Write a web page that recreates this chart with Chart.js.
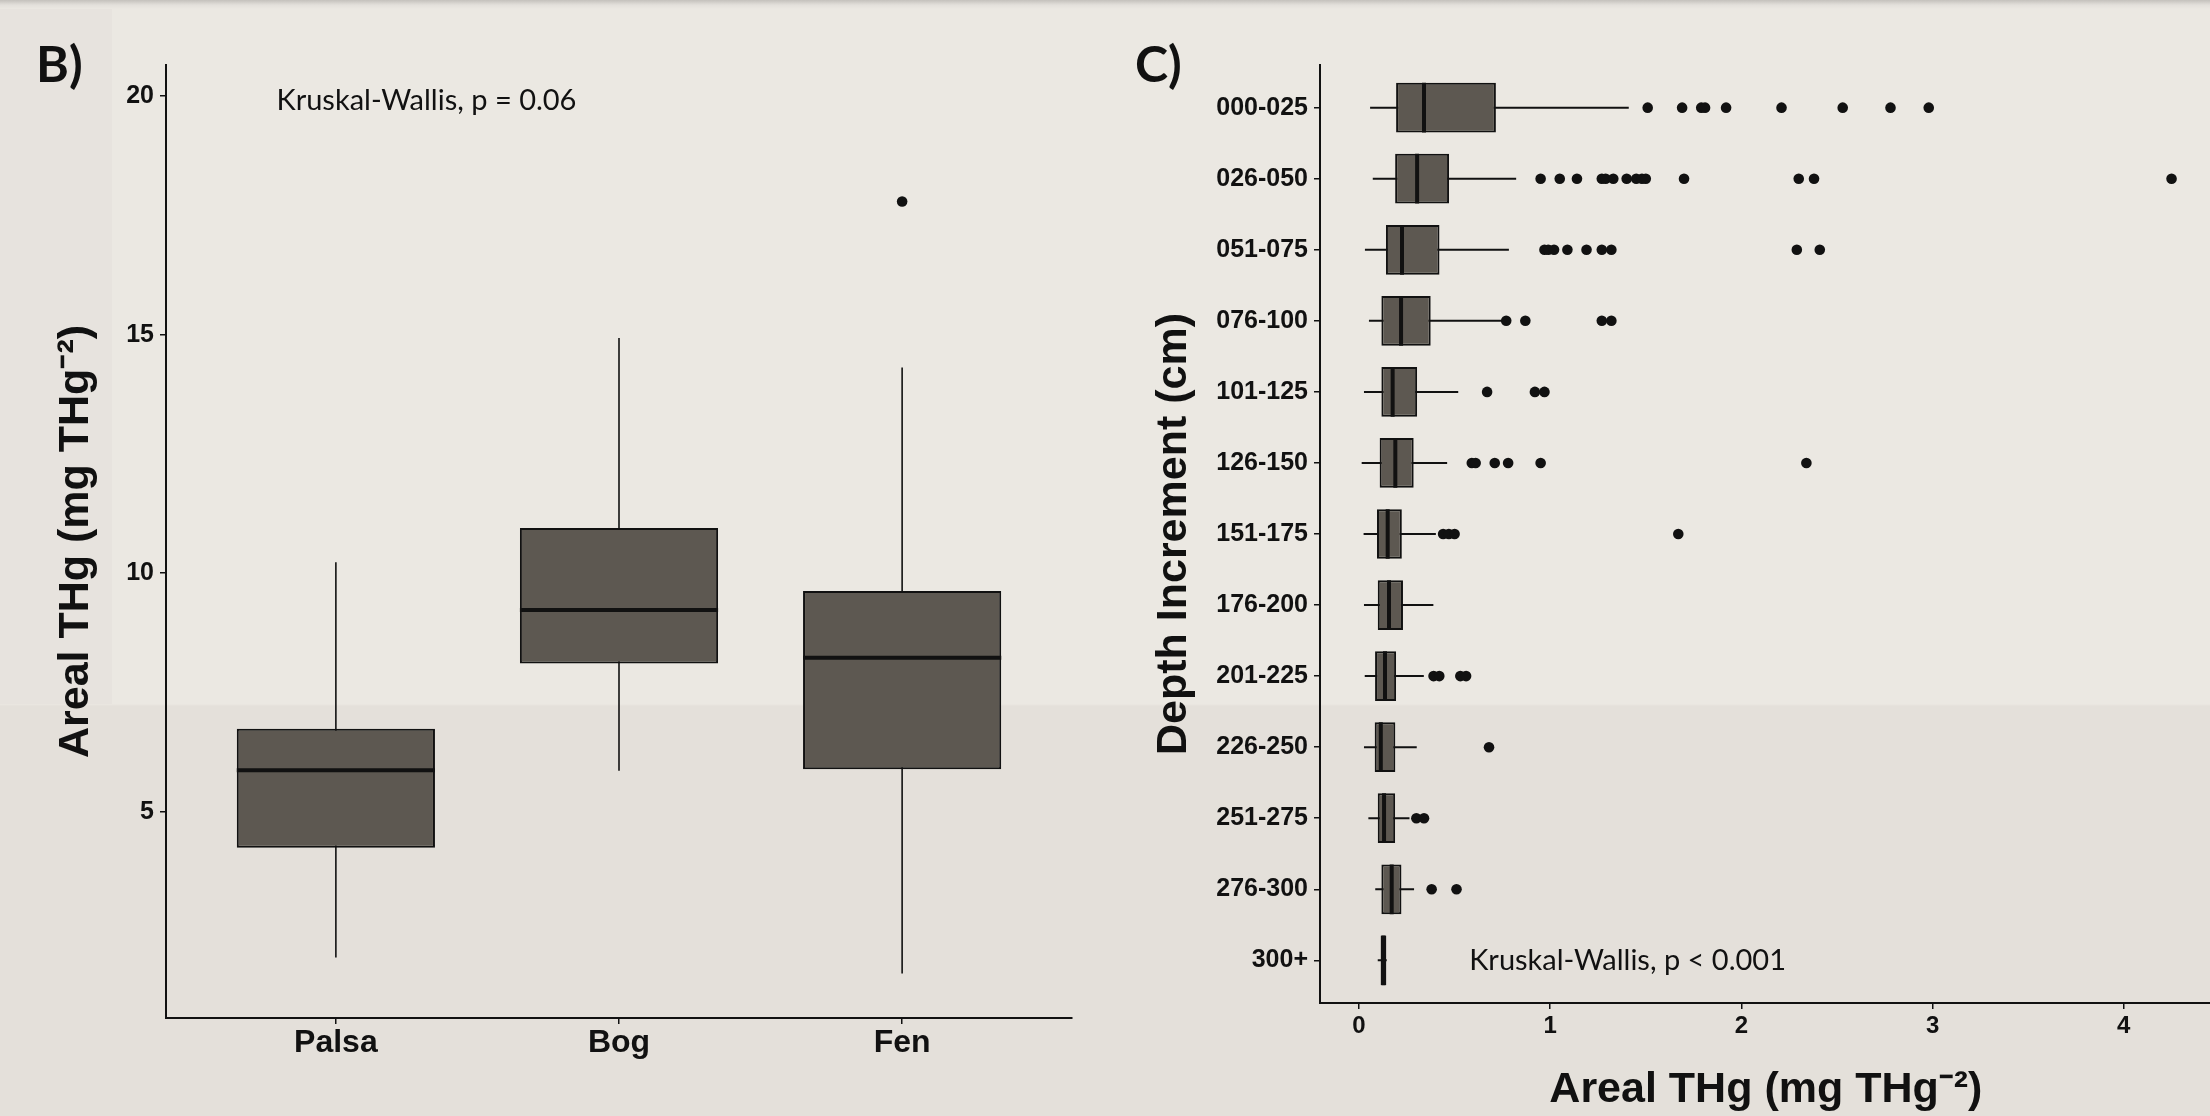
<!DOCTYPE html>
<html>
<head>
<meta charset="utf-8">
<script src="https://cdn.jsdelivr.net/npm/chart.js@4.4.1/dist/chart.umd.min.js"></script>
<style>
  html, body { margin: 0; padding: 0; }
  body {
    width: 2210px; height: 1116px; overflow: hidden; position: relative;
    background: linear-gradient(to bottom, #c4c1bc 0px, #e3e0db 5px, #ebe8e2 9px, #ebe8e2 704px, #e4e0da 706px, #e4e0da 1116px);
  }
  #strip { position: absolute; left: 0; top: 9px; width: 112px; height: 695px; background: #e7e3de; }
  .panel { position: absolute; top: 0; height: 1116px; }
  #left { left: 0; width: 1105px; }
  #right { left: 1105px; width: 1112px; }
</style>
</head>
<body>
<div id="strip"></div>
<div class="panel" id="left"><canvas id="habitatChart" width="1105" height="1116"></canvas></div>
<div class="panel" id="right"><canvas id="depthChart" width="1112" height="1116"></canvas></div>
<script>
// B) areal THg by habitat
const habitats = ['Palsa', 'Bog', 'Fen'];
const habLow  = [1.95, 5.86, 1.61];
const habQ1   = [4.25, 8.11, 5.89];
const habMed  = [5.87, 9.23, 8.23];
const habQ3   = [6.74, 10.95, 9.63];
const habHigh = [10.23, 14.93, 14.31];
const habOutliers = [[], [], [17.79]];
const habTicks = [5, 10, 15, 20];

// C) areal THg by depth increment
const depths = ['000-025', '026-050', '051-075', '076-100', '101-125', '126-150', '151-175',
                '176-200', '201-225', '226-250', '251-275', '276-300', '300+'];
const depLow  = [0.058, 0.072, 0.031, 0.052, 0.026, 0.014, 0.024, 0.026, 0.030, 0.026, 0.049, 0.085, 0.098];
const depQ1   = [0.194, 0.189, 0.141, 0.117, 0.117, 0.108, 0.094, 0.098, 0.084, 0.082, 0.098, 0.117, 0.113];
const depMed  = [0.340, 0.304, 0.225, 0.220, 0.176, 0.190, 0.150, 0.157, 0.136, 0.114, 0.131, 0.171, 0.128];
const depQ3   = [0.716, 0.471, 0.421, 0.375, 0.304, 0.286, 0.224, 0.230, 0.194, 0.190, 0.189, 0.222, 0.143];
const depHigh = [1.411, 0.822, 0.784, 0.766, 0.519, 0.461, 0.402, 0.389, 0.339, 0.302, 0.264, 0.288, 0.145];
const depOutliers = [
  [1.51, 1.69, 1.79, 1.81, 1.92, 2.21, 2.53, 2.78, 2.98],
  [0.95, 1.05, 1.14, 1.27, 1.29, 1.33, 1.40, 1.45, 1.48, 1.50, 1.70, 2.30, 2.38, 4.25],
  [0.97, 0.99, 1.02, 1.09, 1.19, 1.27, 1.32, 2.29, 2.41],
  [0.77, 0.87, 1.27, 1.32],
  [0.67, 0.92, 0.97],
  [0.59, 0.61, 0.71, 0.78, 0.95, 2.34],
  [0.44, 0.47, 0.50, 1.67],
  [],
  [0.39, 0.42, 0.53, 0.56],
  [0.68],
  [0.30, 0.34],
  [0.38, 0.51],
  []
];
const depTicks = [0, 1, 2, 3, 4];

const ink = '#111111';
const boxFill = '#5d5851';
const labelFont = "'Liberation Sans', Arial, sans-serif";
const noteFont = "Lato, 'Open Sans', sans-serif";
const axisTitle = 'Areal THg (mg THg\u207B\u00B2)';

Chart.defaults.font.family = labelFont;
Chart.defaults.color = ink;

// whiskers, boxes, medians and outliers as plain chart.js datasets
function boxDatasets(lows, q1s, meds, q3s, highs, outliers, horizontal) {
  const pt = (c, v) => horizontal ? {x: v, y: c} : {x: c, y: v};
  const sets = [];
  lows.forEach((lo, i) => {
    const c = i + 1;
    sets.push({
      type: 'scatter', showLine: true, data: [pt(c, lo), pt(c, highs[i])],
      borderColor: ink, borderWidth: horizontal ? 2 : 1.6, pointRadius: 0, pointHoverRadius: 0, order: 3
    });
    sets.push({
      type: 'scatter', showLine: true, data: [pt(c - 0.35, meds[i]), pt(c + 0.35, meds[i])],
      borderColor: ink, borderWidth: 4, pointRadius: 0, pointHoverRadius: 0, order: 1
    });
  });
  sets.push({
    type: 'bar',
    indexAxis: horizontal ? 'y' : 'x',
    data: q1s.map((q, i) => horizontal ? {y: i + 1, x: [q, q3s[i]]} : {x: i + 1, y: [q, q3s[i]]}),
    backgroundColor: boxFill, borderColor: ink, borderWidth: 2, borderSkipped: false,
    barPercentage: 0.7, categoryPercentage: 1, order: 2
  });
  const pts = [];
  outliers.forEach((list, i) => list.forEach(v => pts.push(pt(i + 1, v))));
  sets.push({
    type: 'scatter', data: pts, pointRadius: 5.3, pointHoverRadius: 5.3,
    pointBackgroundColor: ink, pointBorderWidth: 0, order: 0
  });
  return sets;
}

const panelText = {
  id: 'panelText',
  afterDraw(chart, args, opts) {
    const ctx = chart.ctx;
    ctx.save();
    ctx.fillStyle = ink;
    ctx.textAlign = 'left';
    ctx.font = 'bold 50px ' + noteFont;
    ctx.textBaseline = 'alphabetic';
    ctx.fillText(opts.letter, opts.letterX, opts.letterY);
    ctx.font = '29px ' + noteFont;
    ctx.textBaseline = 'middle';
    ctx.fillText(opts.note,
      chart.scales.x.getPixelForValue(opts.noteX),
      chart.scales.y.getPixelForValue(opts.noteY));
    ctx.restore();
  }
};

const tickGrid = { display: true, drawOnChartArea: false, drawTicks: true, tickLength: 6, color: ink, lineWidth: 1.5, offset: false };
const axisBorder = { display: true, color: ink, width: 2 };

new Chart(document.getElementById('habitatChart'), {
  type: 'scatter',
  data: { datasets: boxDatasets(habLow, habQ1, habMed, habQ3, habHigh, habOutliers, false) },
  plugins: [panelText],
  options: {
    responsive: false,
    animation: false,
    devicePixelRatio: 1,
    layout: { padding: { left: 50, right: 33, top: 65, bottom: 0 } },
    plugins: {
      legend: { display: false },
      tooltip: { enabled: false },
      panelText: { letter: 'B)', letterX: 36, letterY: 82, note: 'Kruskal-Wallis, p = 0.06', noteX: 0.79, noteY: 19.9 }
    },
    scales: {
      x: {
        type: 'linear', min: 0.4, max: 3.6, offset: false,
        afterBuildTicks: s => { s.ticks = habitats.map((_, i) => ({ value: i + 1 })); },
        afterFit: s => { s.height = 98; },
        ticks: { callback: v => habitats[v - 1], font: { size: 32, weight: 'bold' }, color: ink, padding: 0, autoSkip: false, maxRotation: 0 },
        grid: tickGrid, border: axisBorder
      },
      y: {
        type: 'linear', min: 0.68, max: 20.65,
        afterBuildTicks: s => { s.ticks = habTicks.map(v => ({ value: v })); },
        afterFit: s => { s.width = 116; },
        ticks: { font: { size: 25, weight: 'bold' }, color: ink, padding: 6 },
        grid: tickGrid, border: axisBorder,
        title: { display: true, text: axisTitle, font: { size: 43, weight: 'bold' }, color: ink, padding: 0 }
      }
    }
  }
});

new Chart(document.getElementById('depthChart'), {
  type: 'scatter',
  data: { datasets: boxDatasets(depLow, depQ1, depMed, depQ3, depHigh, depOutliers, true) },
  plugins: [panelText],
  options: {
    responsive: false,
    animation: false,
    devicePixelRatio: 1,
    layout: { padding: { left: 43, right: 0, top: 65, bottom: 0 } },
    plugins: {
      legend: { display: false },
      tooltip: { enabled: false },
      panelText: { letter: 'C)', letterX: 30, letterY: 82, note: 'Kruskal-Wallis, p < 0.001', noteX: 0.576, noteY: 13 }
    },
    scales: {
      x: {
        type: 'linear', min: -0.204, max: 4.46, offset: false,
        afterBuildTicks: s => { s.ticks = depTicks.map(v => ({ value: v })); },
        afterFit: s => { s.height = 113; },
        ticks: { font: { size: 24, weight: 'bold' }, color: ink, padding: 3, autoSkip: false, maxRotation: 0 },
        grid: tickGrid, border: axisBorder,
        title: { display: true, text: axisTitle, font: { size: 43, weight: 'bold' }, color: ink, padding: { top: 0, bottom: 0 } }
      },
      y: {
        type: 'linear', min: 0.4, max: 13.6, reverse: true, offset: false,
        afterBuildTicks: s => { s.ticks = depths.map((_, i) => ({ value: i + 1 })); },
        afterFit: s => { s.width = 172; },
        ticks: { callback: v => depths[v - 1], font: { size: 25, weight: 'bold' }, color: ink, padding: 6, autoSkip: false },
        grid: tickGrid, border: axisBorder,
        title: { display: true, text: 'Depth Increment (cm)', font: { size: 43, weight: 'bold' }, color: ink, padding: 0 }
      }
    }
  }
});
</script>
</body>
</html>
